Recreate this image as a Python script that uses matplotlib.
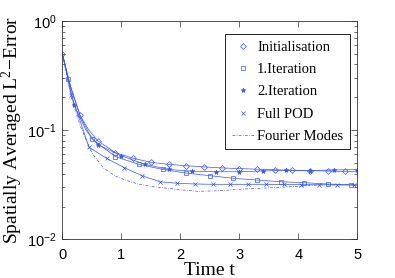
import numpy as np
import matplotlib
matplotlib.use('Agg')
import matplotlib.pyplot as plt
from matplotlib.ticker import FixedLocator, LogLocator, NullFormatter

##################### data
# Initialisation (diamonds every 0.3)
t_init = [0, 0.15, 0.3, 0.45, 0.6, 0.9, 1.2, 1.5, 1.8, 2.1, 2.4, 2.7, 3.0, 3.3, 3.6, 3.9, 4.2, 4.5, 4.8, 5.0]
v_init = [0.50, 0.24, 0.137, 0.100, 0.080, 0.0623, 0.0554, 0.0509, 0.0487, 0.0473, 0.0462, 0.0452, 0.0446,
          0.0440, 0.0435, 0.0430, 0.0427, 0.0423, 0.0420, 0.0418]
mk_init = [0, 2, 4, 5, 6, 7, 8, 9, 10, 11, 12, 13, 14, 15, 16, 17, 18]

# 1.Iteration (squares every 0.4 from 0.1)
t_it1 = [0, 0.1, 0.3, 0.5, 0.9, 1.3, 1.7, 2.1, 2.5, 2.9, 3.3, 3.7, 4.1, 4.5, 4.9, 5.0]
v_it1 = [0.50, 0.292, 0.135, 0.083, 0.0573, 0.0487, 0.0438, 0.0405, 0.0384, 0.0363, 0.0350, 0.0338,
         0.0331, 0.0322, 0.0316, 0.0315]
mk_it1 = [1, 3, 4, 5, 6, 7, 8, 9, 10, 11, 12, 13, 14]

# 2.Iteration (stars every 0.4 from 0.2)
t_it2 = [0, 0.2, 0.4, 0.6, 1.0, 1.4, 1.8, 2.2, 2.6, 3.0, 3.4, 3.8, 4.2, 4.6, 5.0]
v_it2 = [0.50, 0.170, 0.100, 0.0737, 0.0584, 0.0487, 0.0438, 0.0422, 0.0417, 0.0417, 0.0424, 0.0430,
         0.0428, 0.0433, 0.0436]
mk_it2 = [1, 3, 4, 5, 6, 7, 8, 9, 10, 11, 12, 13, 14]

# Full POD (crosses every 0.3 from 0.15)
t_pod = [0, 0.15, 0.45, 0.75, 1.05, 1.35, 1.65, 1.95, 2.25, 2.55, 2.85, 3.15, 3.45, 3.75, 4.05, 4.35,
         4.65, 4.95, 5.0]
v_pod = [0.50, 0.21, 0.070, 0.0553, 0.0454, 0.0384, 0.0338, 0.0327, 0.0322, 0.0320, 0.0320, 0.0320,
         0.0320, 0.0319, 0.0318, 0.0317, 0.0316, 0.0315, 0.0315]
mk_pod = list(range(1, 18))

# Fourier Modes (dash-dot, no markers)
t_four = [0, 0.15, 0.3, 0.5, 0.7, 0.9, 1.1, 1.3, 1.6, 2.0, 2.3, 2.7, 3.0, 3.5, 4.0, 4.4, 5.0]
v_four = [0.50, 0.20, 0.11, 0.062, 0.045, 0.038, 0.0345, 0.032, 0.0302, 0.0285, 0.0276, 0.0280, 0.0288,
          0.0297, 0.0307, 0.0316, 0.0318]

labels = ['Initialisation', '1.Iteration', '2.Iteration', 'Full POD', 'Fourier Modes']

##################### plotting
plt.rcParams['mathtext.fontset'] = 'custom'
plt.rcParams['mathtext.rm'] = 'Liberation Sans'

fig = plt.figure(figsize=(3.95, 2.78), dpi=100)
ax = fig.add_axes([0.158, 0.1385, 0.7464, 0.786])

blue = '#3a55ff'
lw = 0.5
series = [(t_init, v_init, mk_init, 'D', 3.0, 'none'),
          (t_it1, v_it1, mk_it1, 's', 3.0, 'none'),
          (t_it2, v_it2, mk_it2, '*', 3.5, blue),
          (t_pod, v_pod, mk_pod, 'x', 2.8, blue)]

for (t, v, mk, m, ms, fc), lab in zip(series, labels):
    ax.plot(t, v, color=blue, lw=lw)
    ax.plot(t, v, ls='none', marker=m, ms=ms, mfc=fc, mec=blue, mew=0.5,
            markevery=mk, label=lab)
ax.plot(t_four, v_four, color=blue, lw=lw, ls='-.', dashes=(4, 2, 1, 2), label=labels[4])

ax.set_yscale('log')
ax.set_xlim(0, 5)
ax.set_ylim(1e-2, 1)

tick_font = {'family': 'Liberation Sans', 'size': 10.5}
ax.xaxis.set_major_locator(FixedLocator([0, 1, 2, 3, 4, 5]))
ax.set_xticklabels(['0', '1', '2', '3', '4', '5'], fontdict=tick_font)
ax.yaxis.set_major_locator(FixedLocator([1e-2, 1e-1, 1]))
ax.set_yticklabels([r'$\mathregular{10^{-2}}$', r'$\mathregular{10^{-1}}$', r'$\mathregular{10^{0}}$'],
                   fontdict=tick_font)
ax.yaxis.set_minor_locator(LogLocator(base=10, subs=np.arange(2, 10)))
ax.yaxis.set_minor_formatter(NullFormatter())
ax.tick_params(which='both', direction='in', top=True, right=True, width=0.5, colors='#333333',
               labelcolor='black')
ax.tick_params(which='major', length=4)
ax.tick_params(axis='x', which='major', pad=6)
ax.tick_params(axis='y', which='major', pad=4)
ax.tick_params(which='minor', length=2)
for s in ax.spines.values():
    s.set_linewidth(0.6)
    s.set_color('#333333')

ax.set_xlabel('Time t', family='Liberation Serif', fontsize=14, labelpad=0)
ax.set_ylabel('Spatially Averaged $\\mathregular{L^2}$\u2212Error',
              family='Liberation Serif', fontsize=14, labelpad=2)

leg = ax.legend(loc='upper right', bbox_to_anchor=(0.975, 0.94), borderaxespad=0,
                prop={'family': 'Liberation Serif', 'size': 10.5}, fancybox=False,
                edgecolor='black', handlelength=1.5, handletextpad=0.25, labelspacing=0.62,
                borderpad=0.45, framealpha=1)
leg.get_frame().set_linewidth(0.6)

fig.savefig('out.png', dpi=100)
